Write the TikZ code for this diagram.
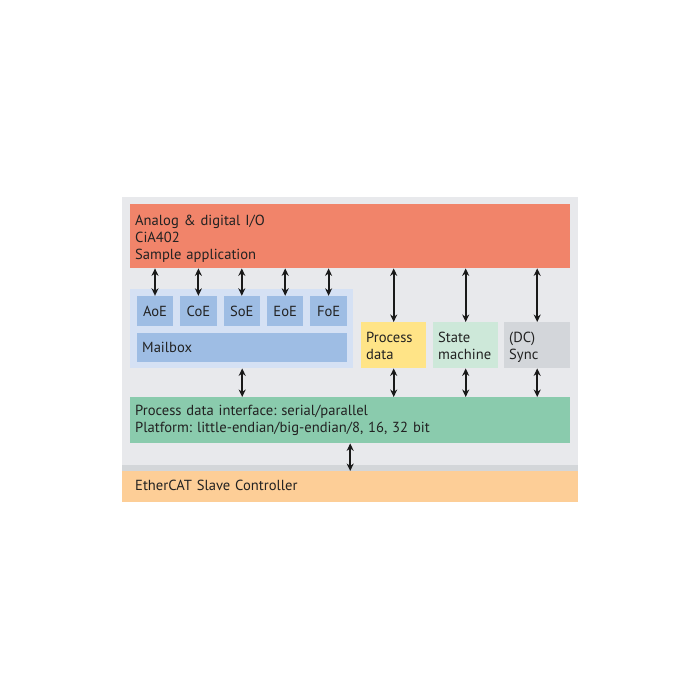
\documentclass[tikz,border=0pt]{standalone}
\usepackage{fontspec}
\setmainfont{PT Sans}
\frenchspacing
\usetikzlibrary{positioning, arrows.meta}

\definecolor{bggray}{HTML}{E8E9EC}
\definecolor{stripgray}{HTML}{D3D6D9}
\definecolor{appred}{HTML}{F1846A}
\definecolor{mbxlight}{HTML}{D5E1F4}
\definecolor{mbxblue}{HTML}{9EBDE4}
\definecolor{pdyellow}{HTML}{FFE487}
\definecolor{smgreen}{HTML}{CDE8D9}
\definecolor{syncgray}{HTML}{D3D6DA}
\definecolor{pdigreen}{HTML}{8ACBAD}
\definecolor{escorange}{HTML}{FDCE97}
\definecolor{textgray}{HTML}{222222}

\begin{document}
\begin{tikzpicture}[
    x=1pt, y=-1pt, >={Stealth[length=7.5pt, width=7pt]}, node distance=43.4pt,
    panel/.style={rectangle, anchor=north west, inner xsep=5pt, inner ysep=0pt, align=left,
        font=\fontsize{14.6}{17}\selectfont, text=textgray},
    tag/.style={rectangle, fill=mbxblue, inner sep=0pt, minimum width=36.5pt, minimum height=30pt,
        font=\fontsize{14.6}{17}\selectfont, text=textgray},
    link/.style={<->, line width=1.9pt, black!90}
]
    \useasboundingbox (0,0) rectangle (700,700);

    % Frame
    \fill[bggray] (122,197) rectangle (578,471);
    \fill[stripgray] (122,465) rectangle (578,471);

    % Application
    \node[panel, fill=appred, text width=430pt, text height=21pt, text depth=43pt] (app) at (130,204)
        {Analog \& digital I/O\\CiA402\\Sample application};

    % Mailbox protocols
    \node[rectangle, anchor=north west, fill=mbxlight, inner sep=0pt,
        minimum width=223pt, minimum height=79pt] (mbxarea) at (130,289) {};
    \node[tag] (AoE) at (155,311) {AoE};
    \node[tag, right of=AoE] (CoE) {CoE};
    \node[tag, right of=CoE] (SoE) {SoE};
    \node[tag, right of=SoE] (EoE) {EoE};
    \node[tag, right of=EoE] (FoE) {FoE};
    \node[panel, fill=mbxblue, text width=200pt, text height=19pt, text depth=10pt] (mailbox) at (137,333)
        {Mailbox};

    % Process data, state machine, sync
    \node[panel, fill=pdyellow, text width=55pt, text height=20pt, text depth=26pt] (pd) at (361,322)
        {Process\\data};
    \node[panel, fill=smgreen, text width=55pt, text height=20pt, text depth=26pt] (sm) at (433,322)
        {State\\machine};
    \node[panel, fill=syncgray, text width=56pt, text height=20pt, text depth=26pt] (sync) at (504,322)
        {(DC)\\Sync};

    % Interface and controller
    \node[panel, fill=pdigreen, text width=430pt, text height=18.5pt, text depth=27.5pt] (pdi) at (130,397)
        {Process data interface: serial/parallel\\Platform: little-endian/big-endian/8, 16, 32 bit};
    \node[panel, fill=escorange, inner xsep=13pt, text width=430pt, text height=19pt, text depth=12pt] (esc)
        at (122,471) {EtherCAT Slave Controller};

    % Links
    \foreach \m in {AoE, CoE, SoE, EoE, FoE}
        \path[link] (\m |- app.south) edge (\m.north);
    \foreach \m in {pd, sm, sync} {
        \path[link] (\m |- app.south) edge (\m.north);
        \path[link] (\m.south) edge (\m |- pdi.north);
    }
    \path[link] (mailbox |- mbxarea.south) edge (mailbox |- pdi.north);
    \path[link] (esc |- pdi.south) edge (esc.north);

\end{tikzpicture}
\end{document}
